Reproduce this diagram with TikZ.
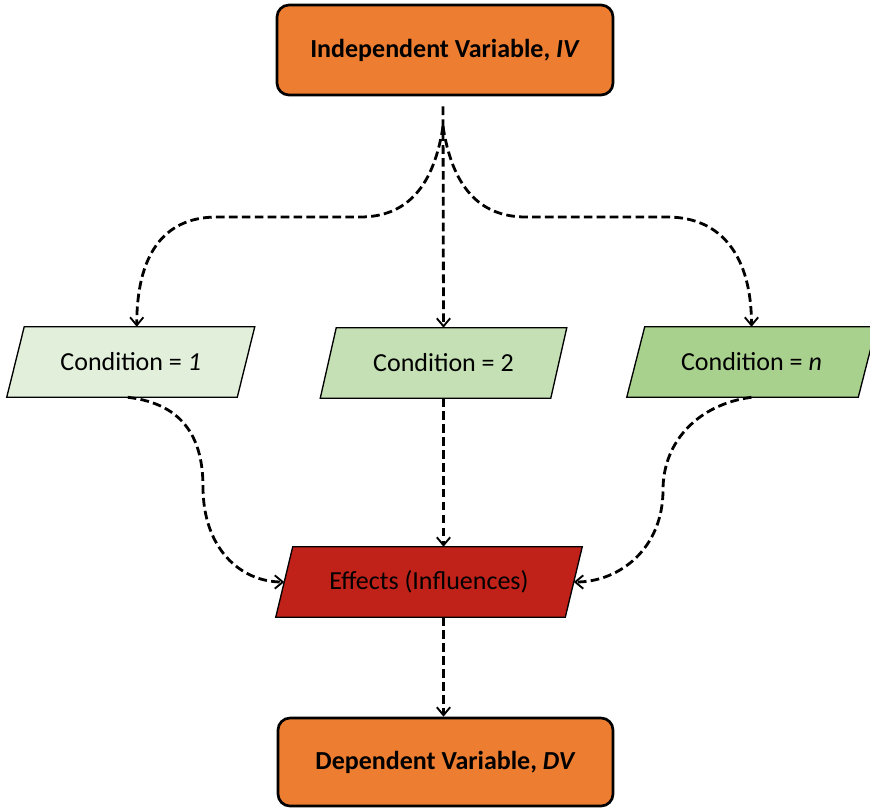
\documentclass[tikz,border=0pt]{standalone}
\usepackage{fontspec}
\setmainfont{Carlito}
\usetikzlibrary{arrows.meta,calc,backgrounds}
\definecolor{ivorange}{HTML}{ED7D31}
\definecolor{cagreen}{HTML}{E2EFDA}
\definecolor{cbgreen}{HTML}{C5E0B4}
\definecolor{ccgreen}{HTML}{A9D18E}
\definecolor{effred}{HTML}{C0221A}
\newcommand\drawpgram[3]{%
  \draw[fill=#2, line width=1pt, line join=miter]
    ($(#1.north west)+(#3,0)$) -- ($(#1.north east)+(#3,0)$) --
    ($(#1.south east)+(-#3,0)$) -- ($(#1.south west)+(-#3,0)$) -- cycle;}
\begin{document}
\begin{tikzpicture}[x=0.75pt,y=-0.75pt,
  termbox/.style={draw=black, line width=2pt, fill=ivorange, rounded corners=9pt,
    font=\fontsize{19.5}{23}\selectfont\bfseries, inner sep=0pt},
  condbox/.style={inner sep=0pt, minimum height=52.5pt,
    font=\fontsize{19.5}{23}\selectfont},
  flow/.style={line width=2.1pt, dash pattern=on 6.5pt off 3.2pt,
    -{Straight Barb[length=6pt,width=10pt,line width=1.4pt]}}]
\useasboundingbox (0,0) rectangle (870,808);

\node[termbox, minimum width=252pt, minimum height=67.5pt] (iv) at (445,50)
  {Independent Variable, \textit{IV}};
\node[condbox, minimum width=172.5pt] (c1) at (130.75,362) {Condition = \textit{1}};
\node[condbox, minimum width=172.5pt] (c2) at (443.5,363) {Condition = 2};
\node[condbox, minimum width=173.25pt] (cn) at (751.5,362) {Condition = \textit{n}};
\node[condbox, minimum width=216.75pt] (ef) at (429,582) {Effects (Influences)};
\node[termbox, minimum width=251.25pt, minimum height=66pt] (dv) at (445.5,762)
  {Dependent Variable, \textit{DV}};

\begin{scope}[on background layer]
  \drawpgram{c1}{cagreen}{8.75}
  \drawpgram{c2}{cbgreen}{8}
  \drawpgram{cn}{ccgreen}{9}
  \drawpgram{ef}{effred}{8.5}
\end{scope}

\coordinate (s0) at ($(iv.south)+(-2,10)$);
\coordinate (br) at ($(iv.south)+(-2,30)$);

\draw[flow] (s0) -- (c2.north);
\draw[flow] (br) .. controls (434,185) and (408,217) .. (360,217) -- (217,217)
  .. controls (162,217) and ($(c1.north)+(6,-70)$) .. ($(c1.north)+(6,0)$);
\draw[flow] (br) .. controls (452,185) and (478,217) .. (526,217) -- (667,217)
  .. controls (722,217) and ($(cn.north)+(0,-70)$) .. (cn.north);

\draw[flow] (c2.south) -- (c2.south |- ef.north);
\draw[flow] (c2.south |- ef.south) -- (c2.south |- dv.north);

\draw[flow] ($(c1.south)+(-3,0)$) .. controls (185,404) and (203,440) .. (203,487)
  .. controls (203,548) and (240,582) .. (ef.west);
\draw[flow] (cn.south) .. controls (700,404) and (663,440) .. (663,490)
  .. controls (663,548) and (620,582) .. (ef.east);
\end{tikzpicture}
\end{document}
